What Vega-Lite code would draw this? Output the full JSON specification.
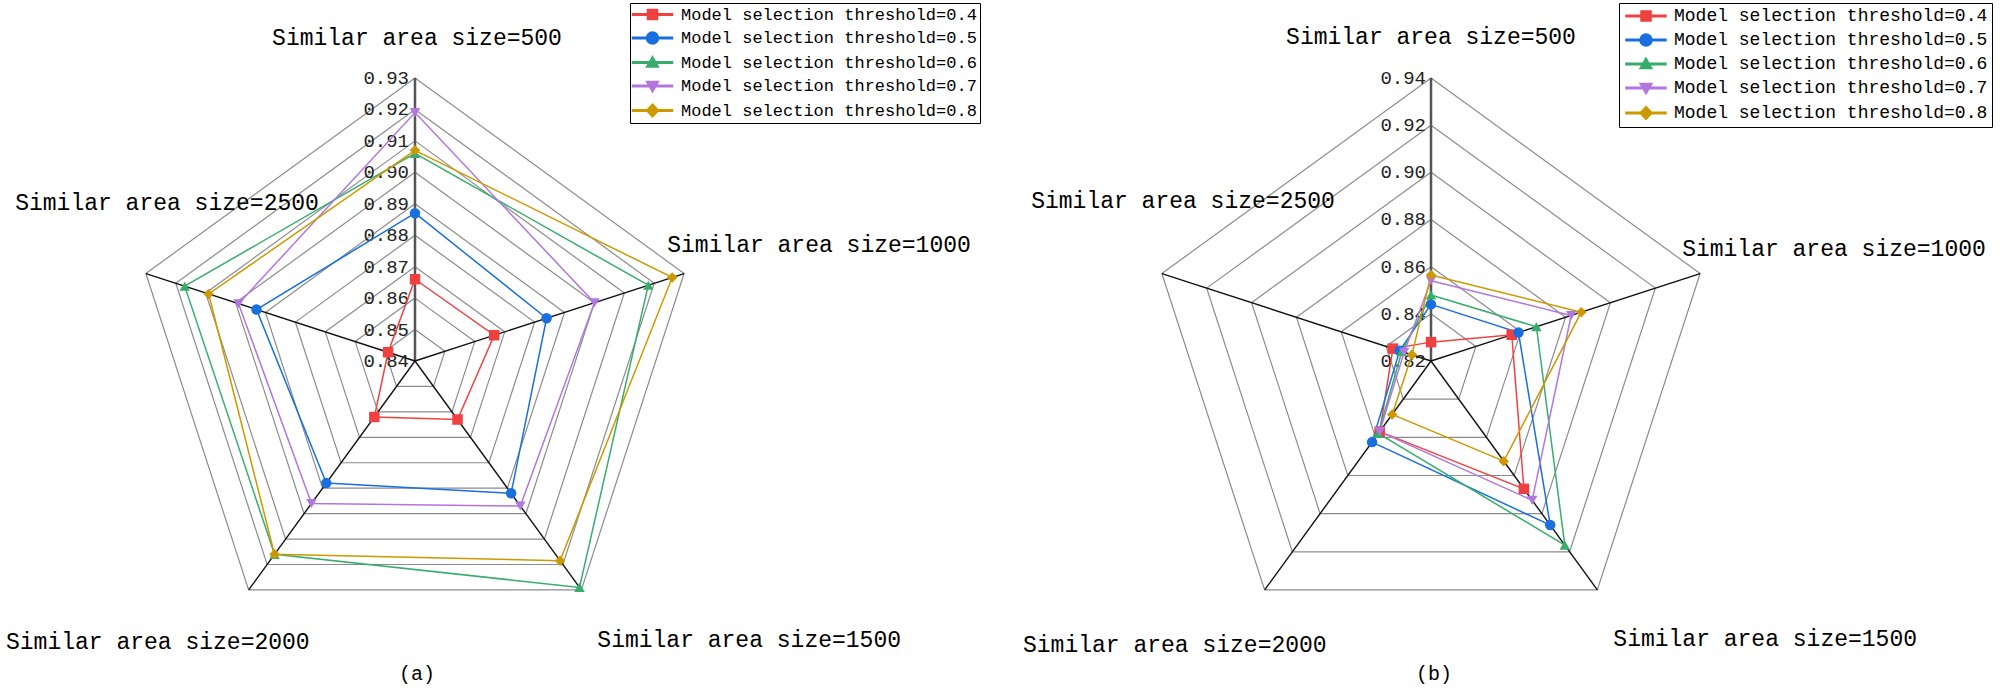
{
  "$schema": "https://vega.github.io/schema/vega-lite/v6.json",
  "description": "Radar charts of accuracy by similar area size for five model selection thresholds, panels (a) and (b)",
  "padding": {"left": 0, "top": 0, "right": 0, "bottom": 8},
  "background": "white",
  "data": {
    "values": [
      {"kind": "s", "panel": "a", "size": "500", "threshold": 0.4, "value": 0.866},
      {"kind": "s", "panel": "a", "size": "1000", "threshold": 0.4, "value": 0.8665},
      {"kind": "s", "panel": "a", "size": "1500", "threshold": 0.4, "value": 0.863},
      {"kind": "s", "panel": "a", "size": "2000", "threshold": 0.4, "value": 0.862},
      {"kind": "s", "panel": "a", "size": "2500", "threshold": 0.4, "value": 0.849},
      {"kind": "s", "panel": "a", "size": "500", "threshold": 0.5, "value": 0.887},
      {"kind": "s", "panel": "a", "size": "1000", "threshold": 0.5, "value": 0.884},
      {"kind": "s", "panel": "a", "size": "1500", "threshold": 0.5, "value": 0.892},
      {"kind": "s", "panel": "a", "size": "2000", "threshold": 0.5, "value": 0.888},
      {"kind": "s", "panel": "a", "size": "2500", "threshold": 0.5, "value": 0.893},
      {"kind": "s", "panel": "a", "size": "500", "threshold": 0.6, "value": 0.906},
      {"kind": "s", "panel": "a", "size": "1000", "threshold": 0.6, "value": 0.918},
      {"kind": "s", "panel": "a", "size": "1500", "threshold": 0.6, "value": 0.929},
      {"kind": "s", "panel": "a", "size": "2000", "threshold": 0.6, "value": 0.916},
      {"kind": "s", "panel": "a", "size": "2500", "threshold": 0.6, "value": 0.917},
      {"kind": "s", "panel": "a", "size": "500", "threshold": 0.7, "value": 0.919},
      {"kind": "s", "panel": "a", "size": "1000", "threshold": 0.7, "value": 0.9},
      {"kind": "s", "panel": "a", "size": "1500", "threshold": 0.7, "value": 0.897},
      {"kind": "s", "panel": "a", "size": "2000", "threshold": 0.7, "value": 0.896},
      {"kind": "s", "panel": "a", "size": "2500", "threshold": 0.7, "value": 0.899},
      {"kind": "s", "panel": "a", "size": "500", "threshold": 0.8, "value": 0.907},
      {"kind": "s", "panel": "a", "size": "1000", "threshold": 0.8, "value": 0.926},
      {"kind": "s", "panel": "a", "size": "1500", "threshold": 0.8, "value": 0.9185},
      {"kind": "s", "panel": "a", "size": "2000", "threshold": 0.8, "value": 0.916},
      {"kind": "s", "panel": "a", "size": "2500", "threshold": 0.8, "value": 0.909},
      {"kind": "s", "panel": "b", "size": "500", "threshold": 0.4, "value": 0.828},
      {"kind": "s", "panel": "b", "size": "1000", "threshold": 0.4, "value": 0.856},
      {"kind": "s", "panel": "b", "size": "1500", "threshold": 0.4, "value": 0.887},
      {"kind": "s", "panel": "b", "size": "2000", "threshold": 0.4, "value": 0.857},
      {"kind": "s", "panel": "b", "size": "2500", "threshold": 0.4, "value": 0.837},
      {"kind": "s", "panel": "b", "size": "500", "threshold": 0.5, "value": 0.844},
      {"kind": "s", "panel": "b", "size": "1000", "threshold": 0.5, "value": 0.859},
      {"kind": "s", "panel": "b", "size": "1500", "threshold": 0.5, "value": 0.906},
      {"kind": "s", "panel": "b", "size": "2000", "threshold": 0.5, "value": 0.8625},
      {"kind": "s", "panel": "b", "size": "2500", "threshold": 0.5, "value": 0.834},
      {"kind": "s", "panel": "b", "size": "500", "threshold": 0.6, "value": 0.848},
      {"kind": "s", "panel": "b", "size": "1000", "threshold": 0.6, "value": 0.867},
      {"kind": "s", "panel": "b", "size": "1500", "threshold": 0.6, "value": 0.9165},
      {"kind": "s", "panel": "b", "size": "2000", "threshold": 0.6, "value": 0.858},
      {"kind": "s", "panel": "b", "size": "2500", "threshold": 0.6, "value": 0.833},
      {"kind": "s", "panel": "b", "size": "500", "threshold": 0.7, "value": 0.854},
      {"kind": "s", "panel": "b", "size": "1000", "threshold": 0.7, "value": 0.8825},
      {"kind": "s", "panel": "b", "size": "1500", "threshold": 0.7, "value": 0.893},
      {"kind": "s", "panel": "b", "size": "2000", "threshold": 0.7, "value": 0.857},
      {"kind": "s", "panel": "b", "size": "2500", "threshold": 0.7, "value": 0.832},
      {"kind": "s", "panel": "b", "size": "500", "threshold": 0.8, "value": 0.8565},
      {"kind": "s", "panel": "b", "size": "1000", "threshold": 0.8, "value": 0.887},
      {"kind": "s", "panel": "b", "size": "1500", "threshold": 0.8, "value": 0.8725},
      {"kind": "s", "panel": "b", "size": "2000", "threshold": 0.8, "value": 0.848},
      {"kind": "s", "panel": "b", "size": "2500", "threshold": 0.8, "value": 0.8285},
      {"kind": "g", "panel": "a", "level": 0.84, "k": [0, 1, 2, 3, 4]},
      {"kind": "g", "panel": "a", "level": 0.85, "k": [0, 1, 2, 3, 4]},
      {"kind": "g", "panel": "a", "level": 0.86, "k": [0, 1, 2, 3, 4]},
      {"kind": "g", "panel": "a", "level": 0.87, "k": [0, 1, 2, 3, 4]},
      {"kind": "g", "panel": "a", "level": 0.88, "k": [0, 1, 2, 3, 4]},
      {"kind": "g", "panel": "a", "level": 0.89, "k": [0, 1, 2, 3, 4]},
      {"kind": "g", "panel": "a", "level": 0.9, "k": [0, 1, 2, 3, 4]},
      {"kind": "g", "panel": "a", "level": 0.91, "k": [0, 1, 2, 3, 4]},
      {"kind": "g", "panel": "a", "level": 0.92, "k": [0, 1, 2, 3, 4]},
      {"kind": "g", "panel": "a", "level": 0.93, "k": [0, 1, 2, 3, 4]},
      {"kind": "g", "panel": "b", "level": 0.82, "k": [0, 1, 2, 3, 4]},
      {"kind": "g", "panel": "b", "level": 0.84, "k": [0, 1, 2, 3, 4]},
      {"kind": "g", "panel": "b", "level": 0.86, "k": [0, 1, 2, 3, 4]},
      {"kind": "g", "panel": "b", "level": 0.88, "k": [0, 1, 2, 3, 4]},
      {"kind": "g", "panel": "b", "level": 0.9, "k": [0, 1, 2, 3, 4]},
      {"kind": "g", "panel": "b", "level": 0.92, "k": [0, 1, 2, 3, 4]},
      {"kind": "g", "panel": "b", "level": 0.94, "k": [0, 1, 2, 3, 4]},
      {"kind": "a", "panel": "a", "size": "500"},
      {"kind": "a", "panel": "a", "size": "1000"},
      {"kind": "a", "panel": "a", "size": "1500"},
      {"kind": "a", "panel": "a", "size": "2000"},
      {"kind": "a", "panel": "a", "size": "2500"},
      {"kind": "a", "panel": "b", "size": "500"},
      {"kind": "a", "panel": "b", "size": "1000"},
      {"kind": "a", "panel": "b", "size": "1500"},
      {"kind": "a", "panel": "b", "size": "2000"},
      {"kind": "a", "panel": "b", "size": "2500"}
    ]
  },
  "spacing": 32,
  "resolve": {
    "scale": {"color": "independent", "shape": "independent"},
    "legend": {"color": "independent", "shape": "independent"}
  },
  "hconcat": [
    {
      "width": 984,
      "height": 658,
      "transform": [{"filter": "datum.panel === 'a'"}],
      "title": {"text": "(a)", "orient": "bottom", "anchor": "middle", "dx": -75, "offset": 6, "font": "Liberation Mono", "fontSize": 20, "fontWeight": "normal", "color": "black"},
      "encoding": {
        "x": {"field": "px", "type": "quantitative", "scale": {"domain": [-1.466431, 2.010601], "nice": false, "zero": false}, "axis": null},
        "y": {"field": "py", "type": "quantitative", "scale": {"domain": [-1.04947, 1.275618], "nice": false, "zero": false}, "axis": null}
      },
      "layer": [
        {
          "transform": [
            {"filter": "datum.kind === 's' && datum.size === '500'"},
            {"calculate": "0", "as": "px"},
            {"calculate": "0", "as": "py"}
          ],
          "mark": {"type": "point", "filled": true, "size": 100, "opacity": 0},
          "encoding": {
            "color": {
              "field": "threshold", "type": "nominal",
              "scale": {"domain": [0.4, 0.5, 0.6, 0.7, 0.8], "range": ["#F14040", "#1A6FDF", "#37AD6B", "#B177DE", "#CC9900"]},
              "legend": {"title": null, "orient": "none", "legendX": 630, "legendY": 3, "labelExpr": "'Model selection threshold=' + datum.label", "labelFont": "Liberation Mono", "labelFontSize": 17, "labelColor": "black", "labelLimit": 500, "padding": 3, "rowPadding": 5.5, "symbolOffset": 11, "labelOffset": 20, "symbolSize": 100, "symbolOpacity": 1, "strokeColor": "black", "fillColor": "white"}
            },
            "shape": {
              "field": "threshold", "type": "nominal",
              "scale": {"domain": [0.4, 0.5, 0.6, 0.7, 0.8], "range": ["M-4,-0.15L4,-0.15L4,0.15L-4,0.15ZM-1,-1L1,-1L1,1L-1,1Z", "M-4,-0.15L4,-0.15L4,0.15L-4,0.15ZM1.2,0A1.2,1.2,0,1,1,-1.2,0A1.2,1.2,0,1,1,1.2,0Z", "M-4,-0.15L4,-0.15L4,0.15L-4,0.15ZM0,-1.2L1.2,0.9L-1.2,0.9Z", "M-4,-0.15L4,-0.15L4,0.15L-4,0.15ZM0,1.2L-1.2,-0.9L1.2,-0.9Z", "M-4,-0.15L4,-0.15L4,0.15L-4,0.15ZM0,-1.3L1.2,0L0,1.3L-1.2,0Z"]},
              "legend": {"title": null, "orient": "none", "legendX": 630, "legendY": 3, "labelExpr": "'Model selection threshold=' + datum.label", "labelFont": "Liberation Mono", "labelFontSize": 17, "labelColor": "black", "labelLimit": 500, "padding": 3, "rowPadding": 5.5, "symbolOffset": 11, "labelOffset": 20, "symbolSize": 100, "symbolOpacity": 1, "strokeColor": "black", "fillColor": "white"}
            }
          }
        },
        {
          "transform": [
            {"filter": "datum.kind === 'g'"},
            {"flatten": ["k"]},
            {"calculate": "(datum.level - 0.84) / 0.09", "as": "r"},
            {"calculate": "datum.r * sin(datum.k * 2 * PI / 5)", "as": "px"},
            {"calculate": "datum.r * cos(datum.k * 2 * PI / 5)", "as": "py"}
          ],
          "mark": {"type": "line", "interpolate": "linear-closed", "color": "#8c8c8c", "strokeWidth": 1.2},
          "encoding": {"detail": {"field": "level"}, "order": {"field": "k", "type": "quantitative"}}
        },
        {
          "transform": [
            {"filter": "datum.kind === 'a'"},
            {"calculate": "indexof(['500','1000','1500','2000','2500'], datum.size)", "as": "k"},
            {"calculate": "0", "as": "px"},
            {"calculate": "0", "as": "py"},
            {"calculate": "sin(datum.k * 2 * PI / 5)", "as": "px2"},
            {"calculate": "cos(datum.k * 2 * PI / 5)", "as": "py2"}
          ],
          "mark": {"type": "rule"},
          "encoding": {
            "x2": {"field": "px2"},
            "y2": {"field": "py2"},
            "color": {"condition": {"test": "datum.size === '500'", "value": "#555555"}, "value": "#111111"},
            "strokeWidth": {"condition": {"test": "datum.size === '500'", "value": 2.5}, "value": 1.4}
          }
        },
        {
          "transform": [
            {"filter": "datum.kind === 'g'"},
            {"calculate": "0", "as": "px"},
            {"calculate": "(datum.level - 0.84) / 0.09", "as": "py"}
          ],
          "mark": {"type": "text", "align": "right", "baseline": "middle", "dx": -6, "font": "Liberation Mono", "fontSize": 19, "color": "#222222"},
          "encoding": {"text": {"field": "level", "type": "quantitative", "format": ".2f"}}
        },
        {
          "transform": [
            {"filter": "datum.kind === 's'"},
            {"calculate": "indexof(['500','1000','1500','2000','2500'], datum.size)", "as": "k"},
            {"calculate": "(datum.value - 0.84) / 0.09", "as": "r"},
            {"calculate": "datum.r * sin(datum.k * 2 * PI / 5)", "as": "px"},
            {"calculate": "datum.r * cos(datum.k * 2 * PI / 5)", "as": "py"}
          ],
          "mark": {"type": "line", "interpolate": "linear-closed", "strokeWidth": 1.5},
          "encoding": {
            "order": {"field": "k", "type": "quantitative"},
            "color": {"field": "threshold", "type": "nominal", "legend": null}
          }
        },
        {
          "transform": [
            {"filter": "datum.kind === 's'"},
            {"calculate": "indexof(['500','1000','1500','2000','2500'], datum.size)", "as": "k"},
            {"calculate": "(datum.value - 0.84) / 0.09", "as": "r"},
            {"calculate": "datum.r * sin(datum.k * 2 * PI / 5)", "as": "px"},
            {"calculate": "datum.r * cos(datum.k * 2 * PI / 5)", "as": "py"}
          ],
          "mark": {"type": "point", "filled": true, "size": 110, "opacity": 1},
          "encoding": {
            "color": {"field": "threshold", "type": "nominal", "legend": null},
            "shape": {"condition": [{"test": "datum.threshold === 0.4", "value": "square"}, {"test": "datum.threshold === 0.5", "value": "circle"}, {"test": "datum.threshold === 0.6", "value": "triangle-up"}, {"test": "datum.threshold === 0.7", "value": "triangle-down"}], "value": "diamond"}
          }
        },
        {
          "transform": [
            {"filter": "datum.kind === 'a' && datum.size === '500'"},
            {"calculate": "0", "as": "px"},
            {"calculate": "1", "as": "py"},
            {"calculate": "'Similar area size=' + datum.size", "as": "label"}
          ],
          "mark": {"type": "text", "align": "center", "baseline": "middle", "dx": 2, "dy": -40, "font": "Liberation Mono", "fontSize": 23, "color": "black"},
          "encoding": {"text": {"field": "label"}}
        },
        {
          "transform": [
            {"filter": "datum.kind === 'a' && datum.size === '1000'"},
            {"calculate": "sin(2 * PI / 5)", "as": "px"},
            {"calculate": "cos(2 * PI / 5)", "as": "py"},
            {"calculate": "'Similar area size=' + datum.size", "as": "label"}
          ],
          "mark": {"type": "text", "align": "left", "baseline": "middle", "dx": -17, "dy": -29, "font": "Liberation Mono", "fontSize": 23, "color": "black"},
          "encoding": {"text": {"field": "label"}}
        },
        {
          "transform": [
            {"filter": "datum.kind === 'a' && datum.size === '1500'"},
            {"calculate": "sin(4 * PI / 5)", "as": "px"},
            {"calculate": "cos(4 * PI / 5)", "as": "py"},
            {"calculate": "'Similar area size=' + datum.size", "as": "label"}
          ],
          "mark": {"type": "text", "align": "left", "baseline": "middle", "dx": 16, "dy": 50, "font": "Liberation Mono", "fontSize": 23, "color": "black"},
          "encoding": {"text": {"field": "label"}}
        },
        {
          "transform": [
            {"filter": "datum.kind === 'a' && datum.size === '2000'"},
            {"calculate": "sin(6 * PI / 5)", "as": "px"},
            {"calculate": "cos(6 * PI / 5)", "as": "py"},
            {"calculate": "'Similar area size=' + datum.size", "as": "label"}
          ],
          "mark": {"type": "text", "align": "right", "baseline": "middle", "dx": 61, "dy": 52, "font": "Liberation Mono", "fontSize": 23, "color": "black"},
          "encoding": {"text": {"field": "label"}}
        },
        {
          "transform": [
            {"filter": "datum.kind === 'a' && datum.size === '2500'"},
            {"calculate": "sin(8 * PI / 5)", "as": "px"},
            {"calculate": "cos(8 * PI / 5)", "as": "py"},
            {"calculate": "'Similar area size=' + datum.size", "as": "label"}
          ],
          "mark": {"type": "text", "align": "right", "baseline": "middle", "dx": 173, "dy": -71, "font": "Liberation Mono", "fontSize": 23, "color": "black"},
          "encoding": {"text": {"field": "label"}}
        }
      ]
    },
    {
      "width": 984,
      "height": 658,
      "transform": [{"filter": "datum.panel === 'b'"}],
      "title": {"text": "(b)", "orient": "bottom", "anchor": "middle", "dx": -74, "offset": 6, "font": "Liberation Mono", "fontSize": 20, "fontWeight": "normal", "color": "black"},
      "encoding": {
        "x": {"field": "px", "type": "quantitative", "scale": {"domain": [-1.466431, 2.010601], "nice": false, "zero": false}, "axis": null},
        "y": {"field": "py", "type": "quantitative", "scale": {"domain": [-1.04947, 1.275618], "nice": false, "zero": false}, "axis": null}
      },
      "layer": [
        {
          "transform": [
            {"filter": "datum.kind === 's' && datum.size === '500'"},
            {"calculate": "0", "as": "px"},
            {"calculate": "0", "as": "py"}
          ],
          "mark": {"type": "point", "filled": true, "size": 100, "opacity": 0},
          "encoding": {
            "color": {
              "field": "threshold", "type": "nominal",
              "scale": {"domain": [0.4, 0.5, 0.6, 0.7, 0.8], "range": ["#F14040", "#1A6FDF", "#37AD6B", "#B177DE", "#CC9900"]},
              "legend": {"title": null, "orient": "none", "legendX": 603, "legendY": 3, "labelExpr": "'Model selection threshold=' + datum.label", "labelFont": "Liberation Mono", "labelFontSize": 18, "labelColor": "black", "labelLimit": 500, "padding": 4, "rowPadding": 6, "symbolOffset": 14, "labelOffset": 19, "symbolSize": 100, "symbolOpacity": 1, "strokeColor": "black", "fillColor": "white"}
            },
            "shape": {
              "field": "threshold", "type": "nominal",
              "scale": {"domain": [0.4, 0.5, 0.6, 0.7, 0.8], "range": ["M-4,-0.15L4,-0.15L4,0.15L-4,0.15ZM-1,-1L1,-1L1,1L-1,1Z", "M-4,-0.15L4,-0.15L4,0.15L-4,0.15ZM1.2,0A1.2,1.2,0,1,1,-1.2,0A1.2,1.2,0,1,1,1.2,0Z", "M-4,-0.15L4,-0.15L4,0.15L-4,0.15ZM0,-1.2L1.2,0.9L-1.2,0.9Z", "M-4,-0.15L4,-0.15L4,0.15L-4,0.15ZM0,1.2L-1.2,-0.9L1.2,-0.9Z", "M-4,-0.15L4,-0.15L4,0.15L-4,0.15ZM0,-1.3L1.2,0L0,1.3L-1.2,0Z"]},
              "legend": {"title": null, "orient": "none", "legendX": 603, "legendY": 3, "labelExpr": "'Model selection threshold=' + datum.label", "labelFont": "Liberation Mono", "labelFontSize": 18, "labelColor": "black", "labelLimit": 500, "padding": 4, "rowPadding": 6, "symbolOffset": 14, "labelOffset": 19, "symbolSize": 100, "symbolOpacity": 1, "strokeColor": "black", "fillColor": "white"}
            }
          }
        },
        {
          "transform": [
            {"filter": "datum.kind === 'g'"},
            {"flatten": ["k"]},
            {"calculate": "(datum.level - 0.82) / 0.12", "as": "r"},
            {"calculate": "datum.r * sin(datum.k * 2 * PI / 5)", "as": "px"},
            {"calculate": "datum.r * cos(datum.k * 2 * PI / 5)", "as": "py"}
          ],
          "mark": {"type": "line", "interpolate": "linear-closed", "color": "#8c8c8c", "strokeWidth": 1.2},
          "encoding": {"detail": {"field": "level"}, "order": {"field": "k", "type": "quantitative"}}
        },
        {
          "transform": [
            {"filter": "datum.kind === 'a'"},
            {"calculate": "indexof(['500','1000','1500','2000','2500'], datum.size)", "as": "k"},
            {"calculate": "0", "as": "px"},
            {"calculate": "0", "as": "py"},
            {"calculate": "sin(datum.k * 2 * PI / 5)", "as": "px2"},
            {"calculate": "cos(datum.k * 2 * PI / 5)", "as": "py2"}
          ],
          "mark": {"type": "rule"},
          "encoding": {
            "x2": {"field": "px2"},
            "y2": {"field": "py2"},
            "color": {"condition": {"test": "datum.size === '500'", "value": "#555555"}, "value": "#111111"},
            "strokeWidth": {"condition": {"test": "datum.size === '500'", "value": 2.5}, "value": 1.4}
          }
        },
        {
          "transform": [
            {"filter": "datum.kind === 'g'"},
            {"calculate": "0", "as": "px"},
            {"calculate": "(datum.level - 0.82) / 0.12", "as": "py"}
          ],
          "mark": {"type": "text", "align": "right", "baseline": "middle", "dx": -5, "font": "Liberation Mono", "fontSize": 19, "color": "#222222"},
          "encoding": {"text": {"field": "level", "type": "quantitative", "format": ".2f"}}
        },
        {
          "transform": [
            {"filter": "datum.kind === 's'"},
            {"calculate": "indexof(['500','1000','1500','2000','2500'], datum.size)", "as": "k"},
            {"calculate": "(datum.value - 0.82) / 0.12", "as": "r"},
            {"calculate": "datum.r * sin(datum.k * 2 * PI / 5)", "as": "px"},
            {"calculate": "datum.r * cos(datum.k * 2 * PI / 5)", "as": "py"}
          ],
          "mark": {"type": "line", "interpolate": "linear-closed", "strokeWidth": 1.5},
          "encoding": {
            "order": {"field": "k", "type": "quantitative"},
            "color": {"field": "threshold", "type": "nominal", "legend": null}
          }
        },
        {
          "transform": [
            {"filter": "datum.kind === 's'"},
            {"calculate": "indexof(['500','1000','1500','2000','2500'], datum.size)", "as": "k"},
            {"calculate": "(datum.value - 0.82) / 0.12", "as": "r"},
            {"calculate": "datum.r * sin(datum.k * 2 * PI / 5)", "as": "px"},
            {"calculate": "datum.r * cos(datum.k * 2 * PI / 5)", "as": "py"}
          ],
          "mark": {"type": "point", "filled": true, "size": 110, "opacity": 1},
          "encoding": {
            "color": {"field": "threshold", "type": "nominal", "legend": null},
            "shape": {"condition": [{"test": "datum.threshold === 0.4", "value": "square"}, {"test": "datum.threshold === 0.5", "value": "circle"}, {"test": "datum.threshold === 0.6", "value": "triangle-up"}, {"test": "datum.threshold === 0.7", "value": "triangle-down"}], "value": "diamond"}
          }
        },
        {
          "transform": [
            {"filter": "datum.kind === 'a' && datum.size === '500'"},
            {"calculate": "0", "as": "px"},
            {"calculate": "1", "as": "py"},
            {"calculate": "'Similar area size=' + datum.size", "as": "label"}
          ],
          "mark": {"type": "text", "align": "center", "baseline": "middle", "dx": 0, "dy": -41, "font": "Liberation Mono", "fontSize": 23, "color": "black"},
          "encoding": {"text": {"field": "label"}}
        },
        {
          "transform": [
            {"filter": "datum.kind === 'a' && datum.size === '1000'"},
            {"calculate": "sin(2 * PI / 5)", "as": "px"},
            {"calculate": "cos(2 * PI / 5)", "as": "py"},
            {"calculate": "'Similar area size=' + datum.size", "as": "label"}
          ],
          "mark": {"type": "text", "align": "left", "baseline": "middle", "dx": -18, "dy": -25, "font": "Liberation Mono", "fontSize": 23, "color": "black"},
          "encoding": {"text": {"field": "label"}}
        },
        {
          "transform": [
            {"filter": "datum.kind === 'a' && datum.size === '1500'"},
            {"calculate": "sin(4 * PI / 5)", "as": "px"},
            {"calculate": "cos(4 * PI / 5)", "as": "py"},
            {"calculate": "'Similar area size=' + datum.size", "as": "label"}
          ],
          "mark": {"type": "text", "align": "left", "baseline": "middle", "dx": 16, "dy": 49, "font": "Liberation Mono", "fontSize": 23, "color": "black"},
          "encoding": {"text": {"field": "label"}}
        },
        {
          "transform": [
            {"filter": "datum.kind === 'a' && datum.size === '2000'"},
            {"calculate": "sin(6 * PI / 5)", "as": "px"},
            {"calculate": "cos(6 * PI / 5)", "as": "py"},
            {"calculate": "'Similar area size=' + datum.size", "as": "label"}
          ],
          "mark": {"type": "text", "align": "right", "baseline": "middle", "dx": 62, "dy": 55, "font": "Liberation Mono", "fontSize": 23, "color": "black"},
          "encoding": {"text": {"field": "label"}}
        },
        {
          "transform": [
            {"filter": "datum.kind === 'a' && datum.size === '2500'"},
            {"calculate": "sin(8 * PI / 5)", "as": "px"},
            {"calculate": "cos(8 * PI / 5)", "as": "py"},
            {"calculate": "'Similar area size=' + datum.size", "as": "label"}
          ],
          "mark": {"type": "text", "align": "right", "baseline": "middle", "dx": 173, "dy": -73, "font": "Liberation Mono", "fontSize": 23, "color": "black"},
          "encoding": {"text": {"field": "label"}}
        }
      ]
    }
  ],
  "config": {"view": {"stroke": null}}
}
